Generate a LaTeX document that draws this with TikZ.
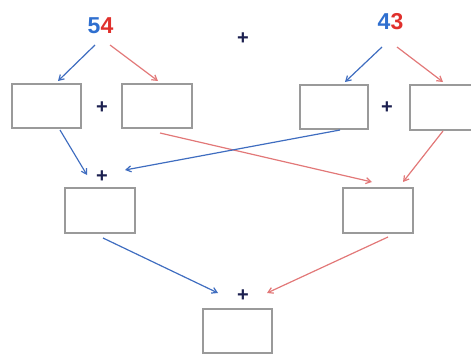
\documentclass[tikz,border=0pt]{standalone}
\usepackage{fontspec}
\setmainfont{Liberation Sans}
\usetikzlibrary{arrows.meta}
\definecolor{digitblue}{HTML}{2F6FCF}
\definecolor{digitred}{HTML}{E0302C}
\definecolor{linkblue}{HTML}{3F6DC0}
\definecolor{linkred}{HTML}{E27878}
\definecolor{boxgrey}{HTML}{9A9A9A}
\definecolor{plusnavy}{HTML}{1C2050}
\tikzset{
  digit/.style={inner sep=0pt, font=\fontsize{23}{23}\selectfont\bfseries},
  plus/.style={inner sep=0pt, text=plusnavy, font=\fontsize{20}{20}\selectfont\bfseries},
  slot/.style={draw=boxgrey, line width=1.4pt, fill=white},
  bluelink/.style={draw=linkblue, line width=1.2pt, -{Straight Barb[length=5pt,width=6pt]}},
  redlink/.style={draw=linkred, line width=1.2pt, -{Straight Barb[length=5pt,width=6pt]}},
}
\begin{document}
\begin{tikzpicture}[x=1pt,y=-1pt]
  \useasboundingbox (0,0) rectangle (471,356);
  \clip (0,0) rectangle (471,356);

  % the two addends, tens in blue and units in red
  \node[digit, text=digitblue] (d5) at (94,26) {5};
  \node[digit, text=digitred]  (d4) at (107,26) {4};
  \node[digit, text=digitblue] (e4) at (384,22) {4};
  \node[digit, text=digitred]  (e3) at (397,22) {3};
  \node[plus] (ptop) at (243,39) {+};

  % first row: split each number into tens and units
  \draw[slot] (12,84) rectangle (81,128);
  \node[inner sep=0pt, minimum width=69pt, minimum height=44pt] (a) at (46.5,106) {};
  \draw[slot] (122,84) rectangle (192,128);
  \node[inner sep=0pt, minimum width=70pt, minimum height=44pt] (b) at (157,106) {};
  \draw[slot] (300,85) rectangle (368,129);
  \node[inner sep=0pt, minimum width=68pt, minimum height=44pt] (c) at (334,107) {};
  \draw[slot] (410,85) rectangle (480,130);
  \node[inner sep=0pt, minimum width=70pt, minimum height=45pt] (d) at (445,107.5) {};
  \node[plus] (pab) at (102,108) {+};
  \node[plus] (pcd) at (387,108) {+};

  % second row: sum of tens, sum of units
  \draw[slot] (65,188) rectangle (135,233);
  \node[inner sep=0pt, minimum width=70pt, minimum height=45pt] (e) at (100,210.5) {};
  \draw[slot] (343,188) rectangle (413,233);
  \node[inner sep=0pt, minimum width=70pt, minimum height=45pt] (f) at (378,210.5) {};
  \node[plus] (pe) at (102,177) {+};

  % final total
  \draw[slot] (203,309) rectangle (272,353);
  \node[inner sep=0pt, minimum width=69pt, minimum height=44pt] (g) at (237.5,331) {};
  \node[plus] (pg) at (243,296) {+};

  % arrow end points
  \coordinate (s5) at (95,45);   \coordinate (t5) at (58,81);
  \coordinate (s4) at (110,45);  \coordinate (t4) at (158,81);
  \coordinate (s43) at (382,47); \coordinate (t43) at (345,82);
  \coordinate (s3) at (397,47);  \coordinate (t3) at (443,82);
  \coordinate (sa) at (60,130);  \coordinate (ta) at (87,175);
  \coordinate (sc) at (340,130); \coordinate (tc) at (125,170);
  \coordinate (sb) at (160,133); \coordinate (tb) at (372,182);
  \coordinate (sd) at (443,131); \coordinate (td) at (403,182);
  \coordinate (se) at (103,238); \coordinate (te) at (218,293);
  \coordinate (sf) at (388,237); \coordinate (tf) at (267,293);

  % connectors
  \draw[bluelink] (s5) -- (t5);
  \draw[redlink]  (s4) -- (t4);
  \draw[bluelink] (s43) -- (t43);
  \draw[redlink]  (s3) -- (t3);
  \draw[bluelink] (sa) -- (ta);
  \draw[redlink]  (sb) -- (tb);
  \draw[bluelink] (sc) -- (tc);
  \draw[redlink]  (sd) -- (td);
  \draw[bluelink] (se) -- (te);
  \draw[redlink]  (sf) -- (tf);
\end{tikzpicture}
\end{document}
